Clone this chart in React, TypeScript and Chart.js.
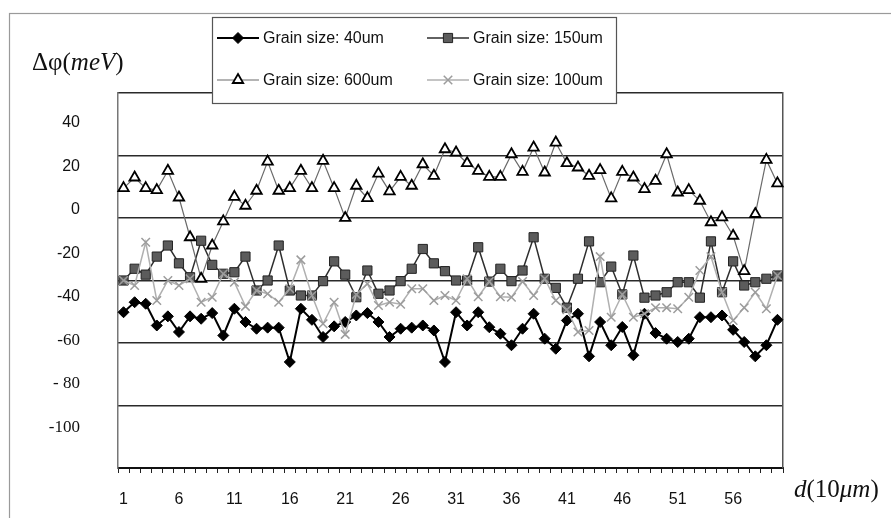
import React, { useEffect, useRef } from 'react';
import { Chart, registerables } from 'chart.js';
import { drawPoint } from 'chart.js/helpers';

Chart.register(...registerables);

const positions = ['1','2','3','4','5','6','7','8','9','10','11','12','13','14','15','16','17','18','19','20','21','22','23','24','25','26','27','28','29','30','31','32','33','34','35','36','37','38','39','40','41','42','43','44','45','46','47','48','49','50','51','52','53','54','55','56','57','58','59','60'];
const shownXTicks = ['1','6','11','16','21','26','31','36','41','46','51','56'];

const yTickValues = [40, 20, 0, -20, -40, -60, -80, -100];
const yTickLabels = ['40', '20', '0', '-20', '-40', '-60', '- 80', '-100'];
const gridSteps = [0, 1, 2, 3, 4, 5, 6];

const seriesNames = ['Grain size: 40um', 'Grain size: 150um', 'Grain size: 600um', 'Grain size: 100um'];

const grain40 = [-47.1, -42.5, -43.2, -53.2, -49, -56.2, -49, -50.1, -47.5, -57.8, -45.5, -51.6, -54.7, -54.2, -54.2, -70, -45.5, -50.6, -58.5, -53.6, -51.6, -48.6, -47.5, -51.6, -58.5, -54.7, -54.2, -53.2, -55.5, -70, -47.1, -53.2, -47.1, -54, -57, -62.3, -54.7, -47.8, -59.3, -63.9, -50.9, -47.8, -67.4, -51.6, -62.3, -53.9, -66.9, -47.8, -56.7, -59.3, -60.8, -59.3, -49.4, -49.4, -48.6, -55.2, -60.8, -67.4, -62.3, -50.6];
const grain150 = [-32.5, -27.1, -29.8, -21.5, -16.4, -24.6, -31, -14.2, -25.3, -29.4, -28.7, -21.5, -37.1, -32.5, -16.4, -37.1, -39.4, -39.4, -32.8, -23.7, -29.8, -40.2, -27.9, -38.6, -37.1, -32.8, -27.1, -18, -24.6, -28.2, -32.5, -32.5, -17.2, -33, -27.1, -32.8, -27.9, -12.6, -31.7, -35.9, -45, -31.7, -14.5, -33.3, -26.1, -38.9, -21, -40.4, -39.4, -37.9, -33.3, -33.3, -40.4, -14.5, -37.9, -23.7, -34.8, -33.3, -31.7, -30.2];
const grain600 = [10, 14.9, 10, 9.1, 18, 5.7, -12.6, -31.7, -16.4, -5.3, 6, 1.9, 8.8, 22.2, 8.8, 10, 18, 10, 22.6, 10, -3.7, 11.1, 5.4, 16.7, 8.5, 15.2, 11.1, 21, 15.7, 27.9, 26.4, 21.5, 18, 15.2, 15.2, 25.6, 17.5, 28.7, 17.2, 31, 21.5, 19.5, 15.7, 18.3, 5.3, 17.5, 14.9, 9.6, 13.4, 25.6, 8, 9.1, 4.2, -5.7, -3.4, -11.9, -28.2, -1.9, 23, 12.2];
const grain100 = [-32.5, -34.8, -14.9, -41.7, -32.5, -34.8, -31.7, -42.5, -40.2, -29.4, -33.3, -44.4, -37.1, -38.6, -42.5, -36.3, -23, -39.4, -52.4, -42.5, -57.3, -38.9, -34, -44, -42.5, -43.4, -36.3, -36.3, -41.7, -39.4, -41.7, -31.7, -40, -33, -40, -40.2, -33, -39.4, -31.7, -41.7, -46, -56.2, -55.5, -21.5, -49.4, -38.9, -49.4, -47.8, -45, -45, -45.5, -40.2, -27.9, -21.5, -37.9, -50.9, -45, -37.9, -45.5, -30.2];

const SANS = "'Liberation Sans', Arial, sans-serif";
const SERIF = "'Liberation Serif', 'Times New Roman', serif";

function drawRich(ctx: CanvasRenderingContext2D, segs: [string, boolean][], x: number, y: number, size: number) {
  let cx = x;
  ctx.textBaseline = 'middle';
  ctx.textAlign = 'left';
  for (const [t, it] of segs) {
    ctx.font = `${it ? 'italic ' : ''}${size}px ${SERIF}`;
    ctx.fillText(t, cx, y);
    cx += ctx.measureText(t).width;
  }
}

const framePlugin = {
  id: 'frame',
  beforeDraw(chart: any) {
    const ctx = chart.ctx;
    ctx.save();
    ctx.fillStyle = '#ffffff';
    ctx.fillRect(0, 0, chart.width, chart.height);
    ctx.strokeStyle = '#9a9a9a';
    ctx.lineWidth = 1.2;
    ctx.strokeRect(9.5, 13.5, 900, 520);
    ctx.restore();
  },
  afterDraw(chart: any) {
    const ctx = chart.ctx;
    ctx.save();
    ctx.fillStyle = '#111';
    drawRich(ctx, [['Δφ(', false], ['meV', true], [')', false]], 32, 63, 25);
    drawRich(ctx, [['d', true], ['(10', false], ['μm', true], [')', false]], 794, 490, 25);
    // legend box
    ctx.fillStyle = '#ffffff';
    ctx.fillRect(212.5, 17.5, 404, 86);
    ctx.strokeStyle = '#555';
    ctx.lineWidth = 1.2;
    ctx.strokeRect(212.5, 17.5, 404, 86);
    const slots = [
      { x: 217, y: 38 },
      { x: 427, y: 38 },
      { x: 217, y: 80 },
      { x: 427, y: 80 },
    ];
    chart.data.datasets.forEach((ds: any, i: number) => {
      const s = slots[i];
      ctx.strokeStyle = ds.borderColor;
      ctx.lineWidth = ds.borderWidth;
      ctx.beginPath();
      ctx.moveTo(s.x, s.y);
      ctx.lineTo(s.x + 42, s.y);
      ctx.stroke();
      ctx.fillStyle = ds.pointBackgroundColor;
      ctx.strokeStyle = ds.pointBorderColor;
      ctx.lineWidth = ds.pointBorderWidth;
      drawPoint(ctx, { pointStyle: ds.pointStyle, radius: ds.pointRadius, borderWidth: ds.pointBorderWidth, rotation: 0 } as any, s.x + 21, s.y);
      ctx.fillStyle = '#111';
      ctx.font = `16px ${SANS}`;
      ctx.textBaseline = 'middle';
      ctx.textAlign = 'left';
      ctx.fillText(ds.label, s.x + 46, s.y + 1);
    });
    ctx.restore();
  },
};

export default function App() {
  const ref = useRef<HTMLCanvasElement>(null);
  useEffect(() => {
    document.body.style.margin = '0';
    const canvas = ref.current!;
    const chart = new Chart(canvas, {
      type: 'line',
      data: {
        labels: positions,
        datasets: [
          {
            label: seriesNames[0], data: grain40, yAxisID: 'y', order: 4,
            borderColor: '#000000', borderWidth: 2, pointStyle: 'rectRot', pointRadius: 5.5,
            pointBackgroundColor: '#000000', pointBorderColor: '#000000', pointBorderWidth: 1,
          },
          {
            label: seriesNames[1], data: grain150, yAxisID: 'y', order: 3,
            borderColor: '#2e2e2e', borderWidth: 1.5, pointStyle: 'rect', pointRadius: 6.5,
            pointBackgroundColor: '#5c5c5c', pointBorderColor: '#222222', pointBorderWidth: 1,
          },
          {
            label: seriesNames[2], data: grain600, yAxisID: 'y', order: 2,
            borderColor: '#6a6a6a', borderWidth: 1.2, pointStyle: 'triangle', pointRadius: 6,
            pointBackgroundColor: '#ffffff', pointBorderColor: '#000000', pointBorderWidth: 1.8,
          },
          {
            label: seriesNames[3], data: grain100, yAxisID: 'y', order: 1,
            borderColor: '#b0b0b0', borderWidth: 1.5, pointStyle: 'crossRot', pointRadius: 6,
            pointBackgroundColor: '#a0a0a0', pointBorderColor: '#9c9c9c', pointBorderWidth: 1.5,
          },
        ],
      } as any,
      options: {
        animation: false,
        responsive: false,
        devicePixelRatio: 1,
        layout: { padding: { top: 93, right: 108, bottom: 0, left: 0 } },
        plugins: { legend: { display: false }, tooltip: { enabled: false } },
        elements: { line: { tension: 0 } },
        scales: {
          x: {
            type: 'category',
            offset: true,
            grid: { display: true, drawOnChartArea: false, drawTicks: true, tickLength: 5, color: '#222', offset: true, lineWidth: 1 },
            border: { display: true, color: '#111', width: 2 },
            ticks: {
              autoSkip: false, maxRotation: 0, minRotation: 0, padding: 17, color: '#111',
              font: { family: SANS, size: 16 },
              callback: (_v: any, i: number) => (shownXTicks.includes(positions[i]) ? positions[i] : ''),
            },
            afterFit: (s: any) => { s.height = 50; },
          },
          y: {
            type: 'linear',
            position: 'left',
            min: -118.8,
            max: 53.8,
            grid: { display: false, drawTicks: false },
            border: { display: true, color: '#777', width: 1.5 },
            afterBuildTicks: (s: any) => { s.ticks = yTickValues.map((v) => ({ value: v })); },
            ticks: {
              padding: 38,
              color: '#111',
              font: (c: any) => (c.tick && c.tick.value <= -60 ? { family: SERIF, size: 17 } : { family: SANS, size: 16 }),
              callback: (v: any) => yTickLabels[yTickValues.indexOf(Number(v))] ?? '',
            },
            afterFit: (s: any) => { s.width = 118; },
          },
          y2: {
            type: 'linear',
            position: 'right',
            min: 0,
            max: 6,
            afterBuildTicks: (s: any) => { s.ticks = gridSteps.map((v) => ({ value: v })); },
            ticks: { display: false },
            grid: { display: true, drawTicks: false, color: '#2a2a2a', lineWidth: 1.5 },
            border: { display: true, color: '#555', width: 1.5 },
            afterFit: (s: any) => { s.width = 0; },
          },
        },
      } as any,
      plugins: [framePlugin],
    });
    return () => chart.destroy();
  }, []);
  return <canvas ref={ref} width={891} height={518} style={{ display: 'block' }} />;
}
